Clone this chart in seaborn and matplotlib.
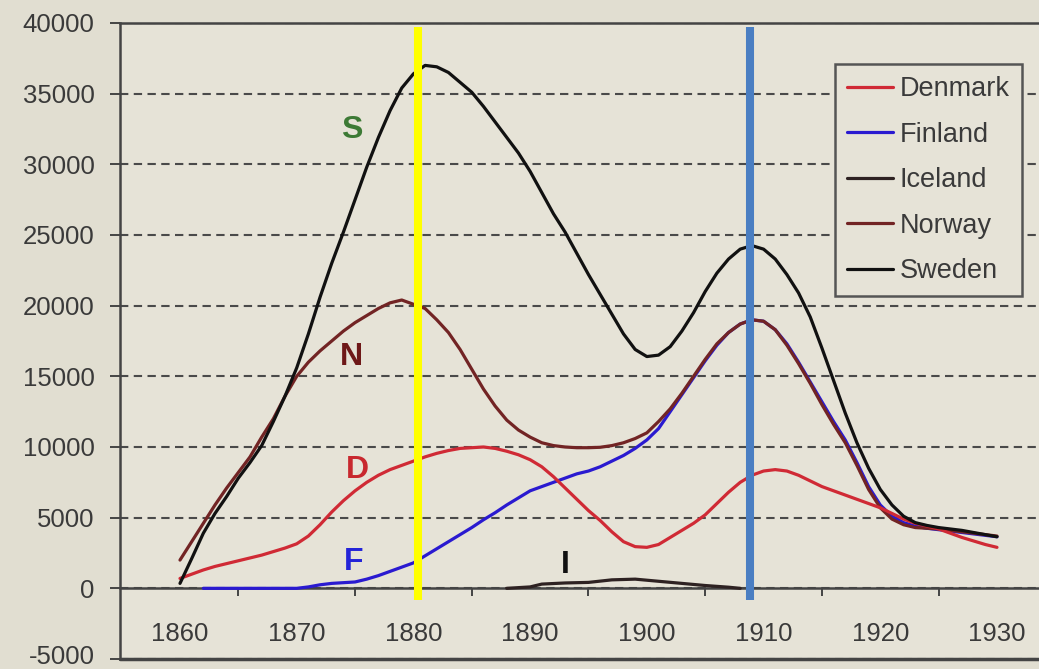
import matplotlib
matplotlib.use("Agg")
import matplotlib.pyplot as plt
import matplotlib.transforms as mtransforms
import seaborn as sns
import pandas as pd
from matplotlib.lines import Line2D

# ---------------- data ----------------
countries = ["Denmark", "Finland", "Iceland", "Norway", "Sweden"]

sweden_years = list(range(1860, 1931))
sweden_vals = [350, 2100, 3900, 5300, 6500, 7800, 8900, 10100, 11800, 13600,
               15600, 18000, 20600, 23000, 25200, 27500, 29800, 31900, 33800, 35400,
               36400, 37000, 36900, 36500, 35800, 35100, 34100, 33000, 31900, 30800,
               29500, 28000, 26500, 25200, 23700, 22200, 20800, 19400, 18000, 16900,
               16400, 16500, 17100, 18200, 19500, 21000, 22300, 23300, 24000, 24250,
               24000, 23300, 22200, 20900, 19200, 17000, 14700, 12400, 10300, 8500,
               7000, 5900, 5100, 4650, 4450, 4300, 4200, 4100, 3950, 3800, 3650]

norway_years = list(range(1860, 1931))
norway_vals = [2000, 3300, 4600, 5900, 7100, 8200, 9300, 10700, 12000, 13600,
               15000, 16000, 16800, 17500, 18200, 18800, 19300, 19800, 20200, 20400,
               20100, 19800, 19000, 18100, 16900, 15500, 14100, 12900, 11900, 11200,
               10700, 10300, 10100, 10000, 9950, 9950, 9980, 10100, 10300, 10600,
               11000, 11800, 12700, 13800, 15000, 16200, 17300, 18100, 18700, 19000,
               18900, 18300, 17200, 15900, 14500, 13000, 11600, 10300, 8700, 7000,
               5700, 4900, 4500, 4300, 4250, 4200, 4100, 4000, 3900, 3800, 3700]

finland_years = list(range(1862, 1931))
finland_vals = [0, 0, 0, 0, 0, 0, 0, 0,
                0, 100, 250, 350, 400, 450, 650, 900, 1200, 1500,
                1800, 2300, 2800, 3300, 3800, 4300, 4850, 5350, 5900, 6400,
                6900, 7200, 7500, 7800, 8100, 8300, 8600, 9000, 9400, 9900,
                10500, 11300, 12500, 13700, 14900, 16100, 17200, 18100, 18700, 19000,
                18900, 18300, 17300, 16000, 14600, 13200, 11800, 10500, 8900, 7200,
                5900, 5100, 4650, 4400, 4250, 4150, 4050, 3950, 3850, 3750, 3650]

iceland_years = [1888, 1890, 1891, 1893, 1895, 1897, 1899, 1901, 1903, 1905, 1907, 1908]
iceland_vals = [0, 100, 300, 380, 420, 600, 650, 500, 350, 200, 80, 0]

denmark_years = list(range(1860, 1931))
denmark_vals = [700, 1000, 1300, 1550, 1750, 1950, 2150, 2350, 2600, 2850,
                3150, 3700, 4500, 5400, 6200, 6900, 7500, 8000, 8400, 8700,
                9000, 9300, 9550, 9750, 9900, 9950, 10000, 9900, 9700, 9450,
                9100, 8600, 7900, 7100, 6300, 5500, 4800, 4000, 3300, 2950,
                2900, 3100, 3600, 4100, 4600, 5200, 6000, 6800, 7500, 8000,
                8300, 8400, 8300, 8000, 7600, 7200, 6900, 6600, 6300, 6000,
                5700, 5300, 4900, 4600, 4400, 4200, 3900, 3600, 3350, 3100, 2900]

y_ticks = [-5000, 0, 5000, 10000, 15000, 20000, 25000, 30000, 35000, 40000]
x_labels = [1860, 1870, 1880, 1890, 1900, 1910, 1920, 1930]
x_tick_marks = [1865, 1875, 1885, 1895, 1905, 1915, 1925]

letters = ["S", "N", "D", "F", "I"]
letter_x = [1874.7, 1874.7, 1875.2, 1874.9, 1893.0]
letter_y = [32400, 16360, 8360, 1840, 1630]

marker_years = [1880.4, 1908.85]

# ---------------- build long table ----------------
frames = []
for name, yrs, vals in [("Denmark", denmark_years, denmark_vals),
                        ("Finland", finland_years, finland_vals),
                        ("Iceland", iceland_years, iceland_vals),
                        ("Norway", norway_years, norway_vals),
                        ("Sweden", sweden_years, sweden_vals)]:
    frames.append(pd.DataFrame({"year": yrs, "value": vals, "country": name}))
df = pd.concat(frames, ignore_index=True)

palette = {"Denmark": "#d02a35", "Finland": "#2a1ad0", "Iceland": "#2e2222",
           "Norway": "#722424", "Sweden": "#111111"}
letter_colors = ["#3d7a35", "#6e1818", "#c8282e", "#2424d8", "#111111"]

BG = "#e6e3d7"
AX = "#444444"

sns.set_theme(style="ticks")
plt.rcParams["font.family"] = ["Liberation Sans", "DejaVu Sans"]

fig = plt.figure(figsize=(10.39, 6.69), dpi=100)
fig.patch.set_facecolor("#e1ded1")
ax = fig.add_axes([120 / 1039, 1 - 659 / 669, 1 - 120 / 1039, (659 - 23) / 669])
ax.set_facecolor(BG)

order = ["Iceland", "Finland", "Norway", "Denmark", "Sweden"]
for c in order:
    sub = df[df["country"] == c]
    sns.lineplot(data=sub, x="year", y="value", color=palette[c], linewidth=2.3,
                 ax=ax, legend=False, zorder=3, sort=False)

ax.set_xlim(1854.86, 1933.6)
ax.set_ylim(-5000, 40000)
ax.set_xlabel("")
ax.set_ylabel("")

# y axis
ax.set_yticks(y_ticks)
ax.set_yticklabels([str(v) for v in y_ticks])
ax.tick_params(axis="y", direction="out", length=7.2, width=1.4, color=AX,
               labelsize=18.5, labelcolor="#3a3a3a", pad=11)
# nudge the lowest label up a little so it stays inside the picture
lbl = ax.get_yticklabels()[0]
lbl.set_transform(lbl.get_transform() +
                  mtransforms.ScaledTranslation(0, 4 / 100, fig.dpi_scale_trans))

# x axis at y = 0
ax.spines["bottom"].set_position(("data", 0))
ax.set_xticks(x_tick_marks)
ax.set_xticklabels([])
ax.set_xticks(x_labels, minor=True)
ax.set_xticklabels([str(v) for v in x_labels], minor=True)
ax.tick_params(axis="x", which="major", direction="out", length=6, width=1.4, color=AX)
ax.tick_params(axis="x", which="minor", length=0, labelsize=18.5,
               labelcolor="#3a3a3a", pad=24)

for s in ["left", "top", "bottom"]:
    ax.spines[s].set_color(AX)
    ax.spines[s].set_linewidth(1.8)
ax.spines["right"].set_visible(False)
ax.axhline(-5000, color=AX, lw=2.5, clip_on=False, zorder=5)

# dashed gridlines
ax.yaxis.grid(True, color="#4a4a4a", linewidth=1.5, linestyle=(0, (4.0, 2.6)))
ax.xaxis.grid(False)
ax.set_axisbelow(True)

# marker vertical lines
for xm, col in zip(marker_years, ["#ffff00", "#4a7ec2"]):
    ax.axvline(xm, ymin=(659 - 600) / 636, ymax=(659 - 27) / 636,
               color=col, lw=5.8, zorder=6, solid_capstyle="butt")

# letter labels
for t, x, y, col in zip(letters, letter_x, letter_y, letter_colors):
    ax.text(x, y, t, color=col, fontsize=23, fontweight="bold",
            ha="center", va="center", zorder=7)

# legend
handles = [Line2D([0], [0], color=palette[c], lw=2.3) for c in countries]
leg = ax.legend(handles, countries, loc="upper left",
                bbox_to_anchor=((835 - 120) / 919, (659 - 64) / 636),
                borderaxespad=0, frameon=True, fancybox=False,
                fontsize=19.5, handlelength=1.7, handletextpad=0.25,
                labelspacing=0.72, borderpad=0.45, facecolor=BG,
                edgecolor="#555555", framealpha=1)
leg.get_frame().set_linewidth(1.8)
for txt in leg.get_texts():
    txt.set_color("#3a3a3a")
leg.set_zorder(8)

fig.savefig("out.png", dpi=100, facecolor=fig.get_facecolor())
